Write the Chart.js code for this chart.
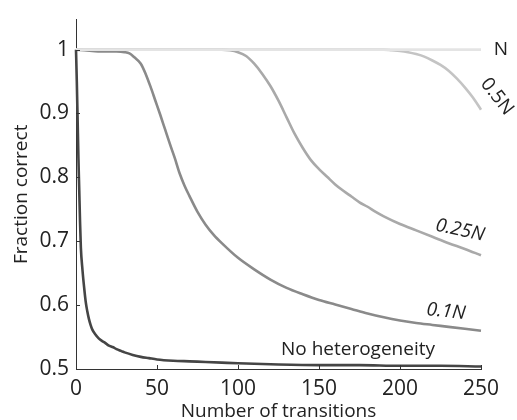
<!DOCTYPE html>
<html>
<head>
<meta charset="utf-8">
<script src="https://cdn.jsdelivr.net/npm/chart.js@4.4.1/dist/chart.umd.min.js"></script>
<style>
  html, body { margin: 0; padding: 0; background: #fff; }
  #wrap { width: 517px; height: 420px; }
</style>
</head>
<body>
<div id="wrap"><canvas id="c" width="517" height="420"></canvas></div>
<script>
// ---- data ----
const seriesNames = ['N', '0.5N', '0.25N', '0.1N', 'No heterogeneity'];
const xTickValues = [0, 50, 100, 150, 200, 250];
const yTickValues = [0.5, 0.6, 0.7, 0.8, 0.9, 1];

const xN = [0, 250];
const yN = [1, 1];

const xHalf = [0, 100, 190, 195, 200, 205, 210, 215, 220, 225, 230, 235, 240, 245, 250];
const yHalf = [1, 1, 1, 0.999, 0.998, 0.996, 0.993, 0.989, 0.983, 0.976, 0.967, 0.955, 0.941, 0.925, 0.906];

const xQuarter = [0, 50, 90, 95, 100, 105, 110, 115, 120, 125, 130, 135, 140, 145, 150, 155, 160, 165, 170, 175, 180, 185, 190, 200, 210, 220, 230, 240, 250];
const yQuarter = [1, 1, 1, 0.999, 0.996, 0.99, 0.978, 0.962, 0.943, 0.92, 0.894, 0.868, 0.846, 0.827, 0.813, 0.801, 0.789, 0.779, 0.77, 0.761, 0.754, 0.746, 0.739, 0.727, 0.717, 0.707, 0.697, 0.688, 0.678];

const xTenth = [0, 5, 10, 15, 20, 25, 30, 33, 36, 40, 43, 46, 49, 52, 55, 58, 61, 64, 67, 70, 75, 80, 85, 90, 100, 110, 120, 130, 140, 150, 160, 170, 180, 190, 200, 210, 220, 230, 240, 250];
const yTenth = [1, 0.999, 0.998, 0.997, 0.997, 0.997, 0.996, 0.994, 0.988, 0.978, 0.962, 0.942, 0.92, 0.898, 0.875, 0.852, 0.83, 0.806, 0.787, 0.771, 0.746, 0.726, 0.71, 0.697, 0.674, 0.656, 0.64, 0.627, 0.617, 0.608, 0.601, 0.594, 0.587, 0.581, 0.576, 0.572, 0.569, 0.566, 0.563, 0.56];

const xNone = [0, 0.5, 1, 1.5, 2, 2.5, 3, 4, 5, 6, 7, 8, 9, 10, 12, 14, 16, 18, 20, 23, 25, 28, 30, 35, 40, 45, 50, 60, 70, 80, 90, 100, 125, 150, 175, 200, 225, 250];
const yNone = [1, 0.95, 0.89, 0.83, 0.78, 0.73, 0.69, 0.655, 0.628, 0.605, 0.59, 0.578, 0.569, 0.562, 0.554, 0.548, 0.544, 0.541, 0.537, 0.534, 0.531, 0.528, 0.526, 0.522, 0.519, 0.517, 0.515, 0.513, 0.512, 0.511, 0.51, 0.509, 0.507, 0.506, 0.506, 0.505, 0.505, 0.504];

// ---- styling ----
const FONT = '"Open Sans", "DejaVu Sans", sans-serif';
const colors = ['#e4e4e4', '#c4c4c4', '#a9a9a9', '#8a8a8a', '#454545'];
const xs = [xN, xHalf, xQuarter, xTenth, xNone];
const ys = [yN, yHalf, yQuarter, yTenth, yNone];

const datasets = seriesNames.map((name, i) => ({
  label: name,
  data: xs[i].map((x, j) => ({ x: x, y: ys[i][j] })),
  borderColor: colors[i],
  borderWidth: 2.6,
  pointRadius: 0,
  fill: false,
  cubicInterpolationMode: 'monotone',
  clip: false
}));

// label placement: [dataset index, x value, y value, dx, dy, rotation deg, italic]
const labelSpecs = [
  [0, 250, 1, 20, 0, 0, false],
  [1, 250, 0.906, 16, -13, 52, false],
  [2, 250, 0.678, -21, -25, 12, true],
  [3, 250, 0.56, -35, -19, 6, true],
  [4, 250, 0.504, -123, -17, 0, false]
];

const curveLabels = {
  id: 'curveLabels',
  afterDatasetsDraw(chart) {
    const { ctx, scales: { x, y } } = chart;
    ctx.save();
    ctx.fillStyle = '#222';
    ctx.textAlign = 'center';
    ctx.textBaseline = 'middle';
    labelSpecs.forEach(([i, xv, yv, dx, dy, rot, it]) => {
      const px = x.getPixelForValue(xv) + dx;
      const py = y.getPixelForValue(yv) + dy;
      ctx.save();
      ctx.translate(px, py);
      ctx.rotate(rot * Math.PI / 180);
      ctx.font = (it ? 'italic ' : '') + '19px ' + FONT;
      ctx.fillText(seriesNames[i], 0, 0);
      ctx.restore();
    });
    ctx.restore();
  }
};

const innerTicks = {
  id: 'innerTicks',
  afterDraw(chart) {
    const { ctx, scales: { x, y } } = chart;
    ctx.save();
    ctx.strokeStyle = '#333';
    ctx.lineWidth = 1;
    ctx.beginPath();
    xTickValues.forEach(v => {
      const px = Math.round(x.getPixelForValue(v)) + 0.5;
      ctx.moveTo(px, y.bottom);
      ctx.lineTo(px, y.bottom - 4);
    });
    yTickValues.forEach(v => {
      const py = Math.round(y.getPixelForValue(v)) + 0.5;
      ctx.moveTo(x.left, py);
      ctx.lineTo(x.left + 4, py);
    });
    ctx.stroke();
    ctx.restore();
  }
};

new Chart(document.getElementById('c'), {
  type: 'line',
  data: { datasets: datasets },
  options: {
    responsive: false,
    animation: false,
    events: [],
    layout: { padding: { top: 11, right: 36, left: 0, bottom: 0 } },
    plugins: { legend: { display: false }, tooltip: { enabled: false } },
    scales: {
      x: {
        type: 'linear',
        min: 0,
        max: 250,
        afterFit(s) { s.height = 51; },
        afterBuildTicks(s) { s.ticks = xTickValues.map(v => ({ value: v })); },
        grid: { display: false, drawTicks: false, tickLength: 0 },
        border: { display: true, color: '#333', width: 1 },
        ticks: { color: '#222', padding: 7, maxRotation: 0, font: { family: FONT, size: 21 }, callback: v => String(v) },
        title: { display: true, text: 'Number of transitions', color: '#222', font: { family: FONT, size: 19 }, padding: { top: 0, bottom: -3 } }
      },
      y: {
        type: 'linear',
        min: 0.5,
        max: 1.047,
        afterFit(s) { s.width = 76; },
        afterBuildTicks(s) { s.ticks = yTickValues.map(v => ({ value: v })); },
        grid: { display: false, drawTicks: false, tickLength: 0 },
        border: { display: true, color: '#333', width: 1 },
        ticks: { color: '#222', padding: 7, font: { family: FONT, size: 21 }, callback: v => String(v) },
        title: { display: true, text: 'Fraction correct', color: '#222', font: { family: FONT, size: 19 }, padding: { top: 10, bottom: 0 } }
      }
    }
  },
  plugins: [curveLabels, innerTicks]
});
</script>
</body>
</html>
